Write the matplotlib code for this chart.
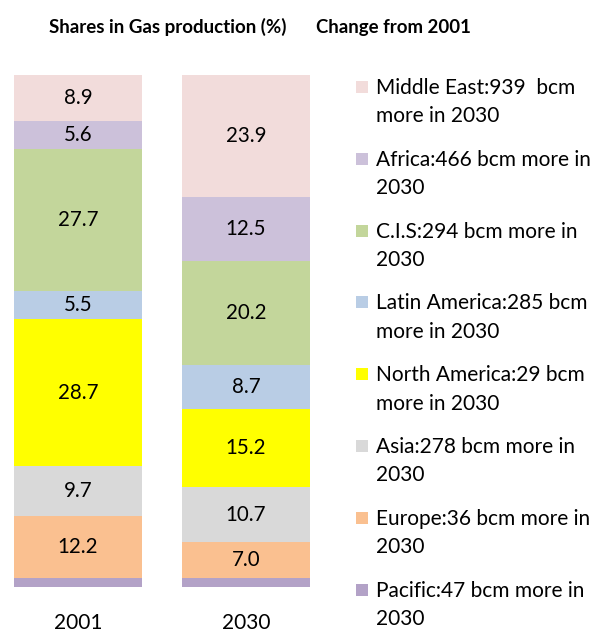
import matplotlib.pyplot as plt
from matplotlib.patches import Rectangle

plt.rcParams['font.family'] = ['Lato', 'DejaVu Sans']

# Data (bottom to top)
regions = ["Pacific", "Europe", "Asia", "North America", "Latin America", "C.I.S", "Africa", "Middle East"]
years = ["2001", "2030"]
shares_2001 = [1.7, 12.2, 9.7, 28.7, 5.5, 27.7, 5.6, 8.9]
shares_2030 = [1.8, 7.0, 10.7, 15.2, 8.7, 20.2, 12.5, 23.9]
colors = ["#B3A2C7", "#FAC090", "#D9D9D9", "#FFFF00", "#B9CDE5", "#C3D69B", "#CCC1DA", "#F2DCDB"]

# Legend labels, top to bottom as shown
legend_labels = [
    "Middle East:939  bcm\nmore in 2030",
    "Africa:466 bcm more in\n2030",
    "C.I.S:294 bcm more in\n2030",
    "Latin America:285 bcm\nmore in 2030",
    "North America:29 bcm\nmore in 2030",
    "Asia:278 bcm more in\n2030",
    "Europe:36 bcm more in\n2030",
    "Pacific:47 bcm more in\n2030",
]
legend_colors = colors[::-1]

W, H = 596, 632
fig = plt.figure(figsize=(W / 100, H / 100), dpi=100)
ax = fig.add_axes([14 / W, (H - 587) / H, 296 / W, 512 / H])

width = 128 / 168
bottoms = [0.0, 0.0]
for i, reg in enumerate(regions):
    vals = [shares_2001[i], shares_2030[i]]
    ax.bar([0, 1], vals, width=width, bottom=bottoms, color=colors[i], linewidth=0)
    for x in range(2):
        if i > 0:
            ax.text(x, bottoms[x] + vals[x] / 2, f"{vals[x]:.1f}", ha="center", va="center",
                    fontsize=14.8, color="black")
        bottoms[x] += vals[x]

ax.set_xlim(-width / 2, 1 + width / 2)
ax.set_ylim(0, 100)
ax.axis("off")

for x, yr in enumerate(years):
    ax.text(x, -7, yr, ha="center", va="center", fontsize=15, clip_on=False)

fig.text(168 / W, 1 - 27 / H, "Shares in Gas production (%)", ha="center", va="center",
         fontsize=13.5, fontweight="bold")
fig.text(393 / W, 1 - 27 / H, "Change from 2001", ha="center", va="center",
         fontsize=13.4, fontweight="bold")

for k, (lab, col) in enumerate(zip(legend_labels, legend_colors)):
    y0 = 87 + k * 71.8
    fig.add_artist(Rectangle((356 / W, 1 - (y0 + 6) / H), 12 / W, 12 / H, transform=fig.transFigure,
                             facecolor=col, edgecolor="none"))
    fig.text(376 / W, 1 - (y0 - 9) / H, lab, ha="left", va="top", fontsize=15, linespacing=1.52)

fig.savefig("out.png", dpi=100)
